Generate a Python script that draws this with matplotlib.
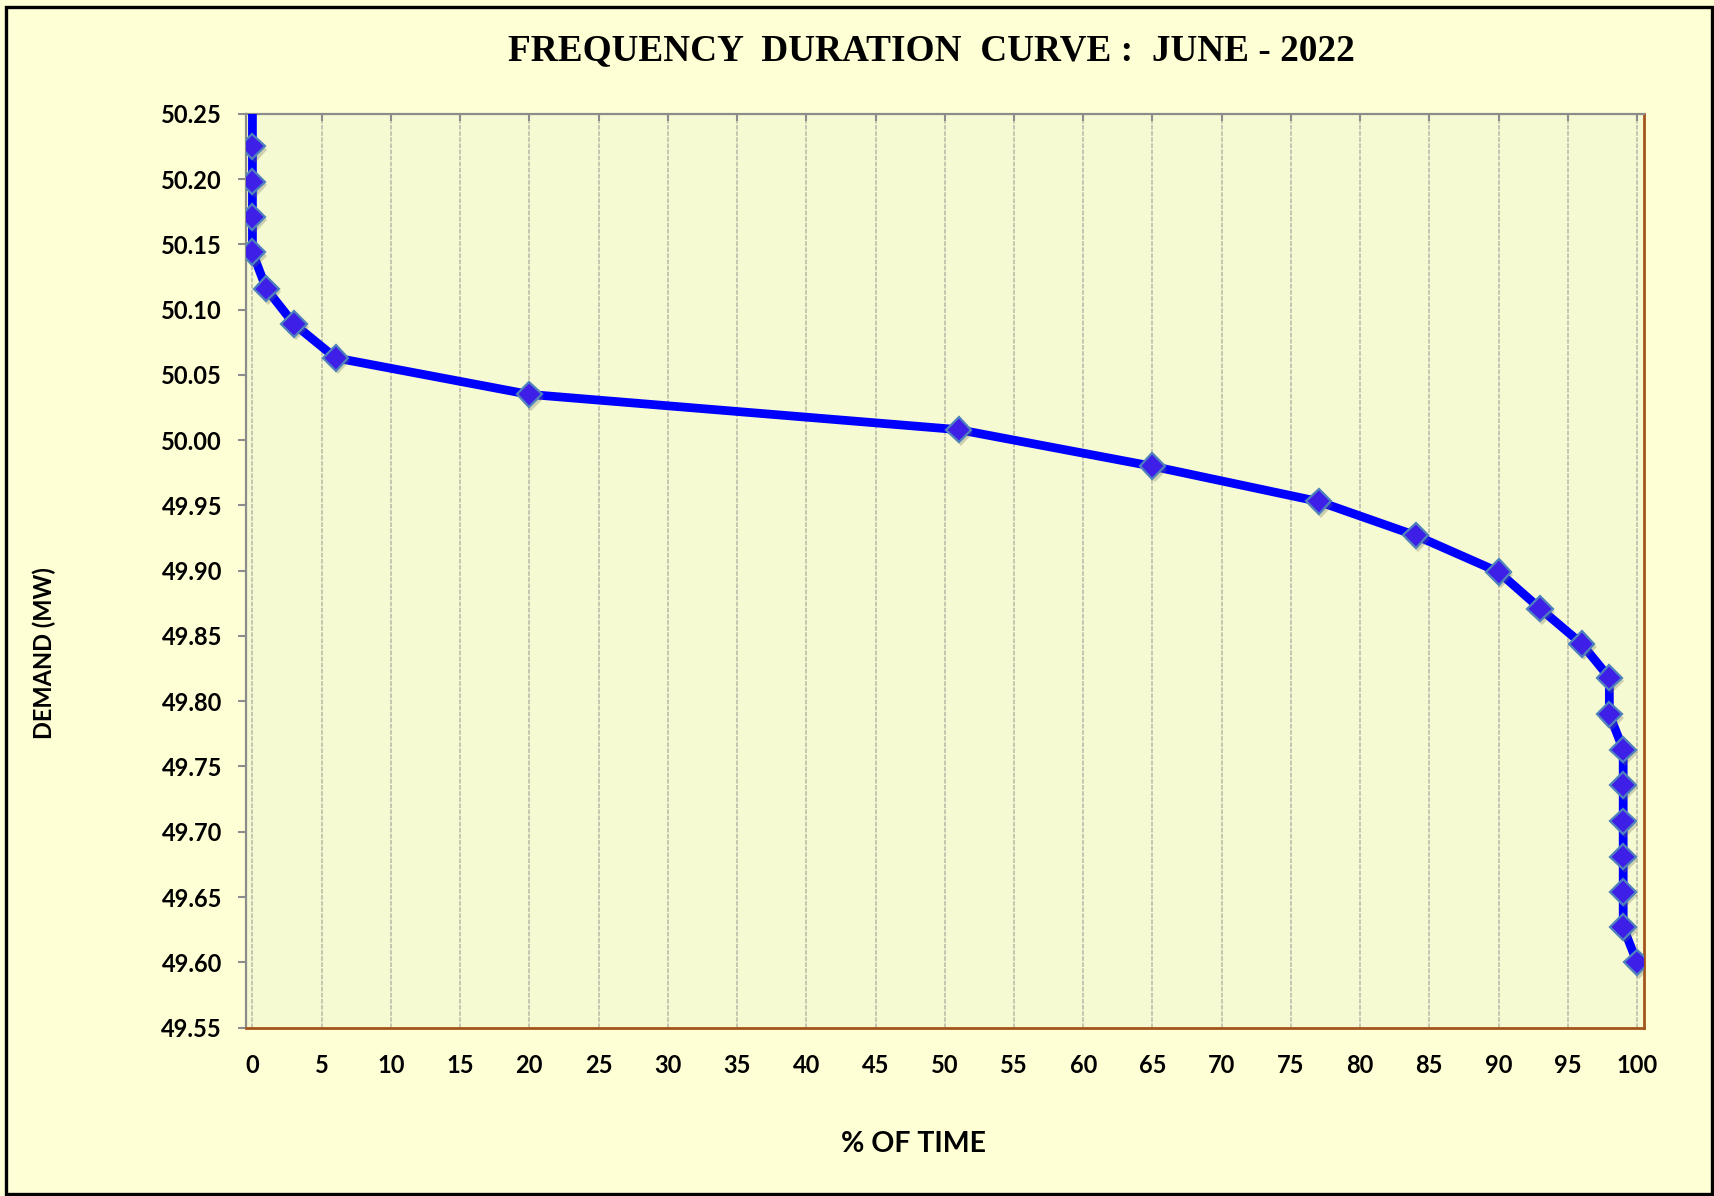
import matplotlib
matplotlib.use("Agg")
import matplotlib.pyplot as plt
import matplotlib.patheffects as pe
from matplotlib.patches import Rectangle

# % of time vs frequency
pct_time = [0.0, 0.0, 0.0, 0.0, 0.0, 1.0, 3.0, 6.0, 20.0, 51.0, 65.0, 77.0, 84.0,
            90.0, 93.0, 96.0, 98.0, 98.0, 99.0, 99.0, 99.0, 99.0, 99.0, 99.0, 100.0]
freq = [50.252, 50.225, 50.198, 50.171, 50.144, 50.116, 50.089, 50.063, 50.035,
        50.008, 49.980, 49.953, 49.927, 49.899, 49.871, 49.844, 49.818, 49.790,
        49.763, 49.736, 49.708, 49.681, 49.654, 49.627, 49.600]

x_ticks = list(range(0, 101, 5))
y_ticks = [49.55 + 0.05 * i for i in range(15)]

outer_bg = "#FFFFD6"
plot_bg = "#F6FAD2"
sans = ["Lato", "DejaVu Sans"]

fig = plt.figure(figsize=(17.14, 11.96), dpi=100, facecolor=outer_bg)
ax = fig.add_axes([0.1434, 0.1408, 0.8155, 0.7641])
ax.set_facecolor(plot_bg)

# the curve, then the markers (first point sits above the axis, no marker there)
ax.plot(pct_time, freq, color="#0000FF", lw=6.3, solid_joinstyle="round",
        solid_capstyle="butt", zorder=3)
mk, = ax.plot(pct_time[1:], freq[1:], ls="none", marker="D", ms=13, mfc="#3D1FE8",
              mec="#4F81BD", mew=1.6, zorder=4)
mk.set_path_effects([pe.SimplePatchShadow(offset=(1.5, -2.5), shadow_rgbFace="#707060",
                                          alpha=0.3), pe.Normal()])

ax.set_xlim(-0.48, 100.47)
ax.set_ylim(49.55, 50.25)
ax.set_xticks(x_ticks)
ax.set_yticks(y_ticks)
ax.set_yticklabels([f"{v:.2f}" for v in y_ticks])

ax.grid(axis="x", color="#B8B8A6", lw=1.1, ls=(0, (3, 1)), zorder=1)
ax.set_axisbelow(True)

for s in ["left", "top"]:
    ax.spines[s].set_color("#8C8C8C")
    ax.spines[s].set_linewidth(1.6)
for s in ["bottom", "right"]:
    ax.spines[s].set_color("#A5541B")
    ax.spines[s].set_linewidth(2)

ax.tick_params(axis="y", direction="out", length=6, width=1.5, color="#8C8C8C", pad=11)
ax.tick_params(axis="x", top=True, bottom=False, direction="in", length=5, width=1.5,
               color="#8C8C8C", pad=19)
for lab in ax.get_xticklabels() + ax.get_yticklabels():
    lab.set_fontfamily(sans)
    lab.set_fontweight("bold")
    lab.set_fontsize(17)

fig.text(931 / 1714, 1 - 51 / 1196, "FREQUENCY  DURATION  CURVE :  JUNE - 2022",
         ha="center", va="center", fontfamily="Liberation Serif", fontweight="bold", fontsize=26.8)
fig.text(44 / 1714, 1 - 653 / 1196, "DEMAND (MW)", rotation=90, ha="center", va="center",
         fontfamily=sans, fontweight="bold", fontsize=17)
fig.text(913 / 1714, 1 - 1144 / 1196, "% OF TIME", ha="center", va="center",
         fontfamily=sans, fontweight="bold", fontsize=20.5)

fig.patches.append(Rectangle((6 / 1714, 2 / 1196), 1706 / 1714, 1187 / 1196,
                             transform=fig.transFigure, fill=False, ec="black", lw=2.4))

fig.savefig("out.png", dpi=100, facecolor=outer_bg)
